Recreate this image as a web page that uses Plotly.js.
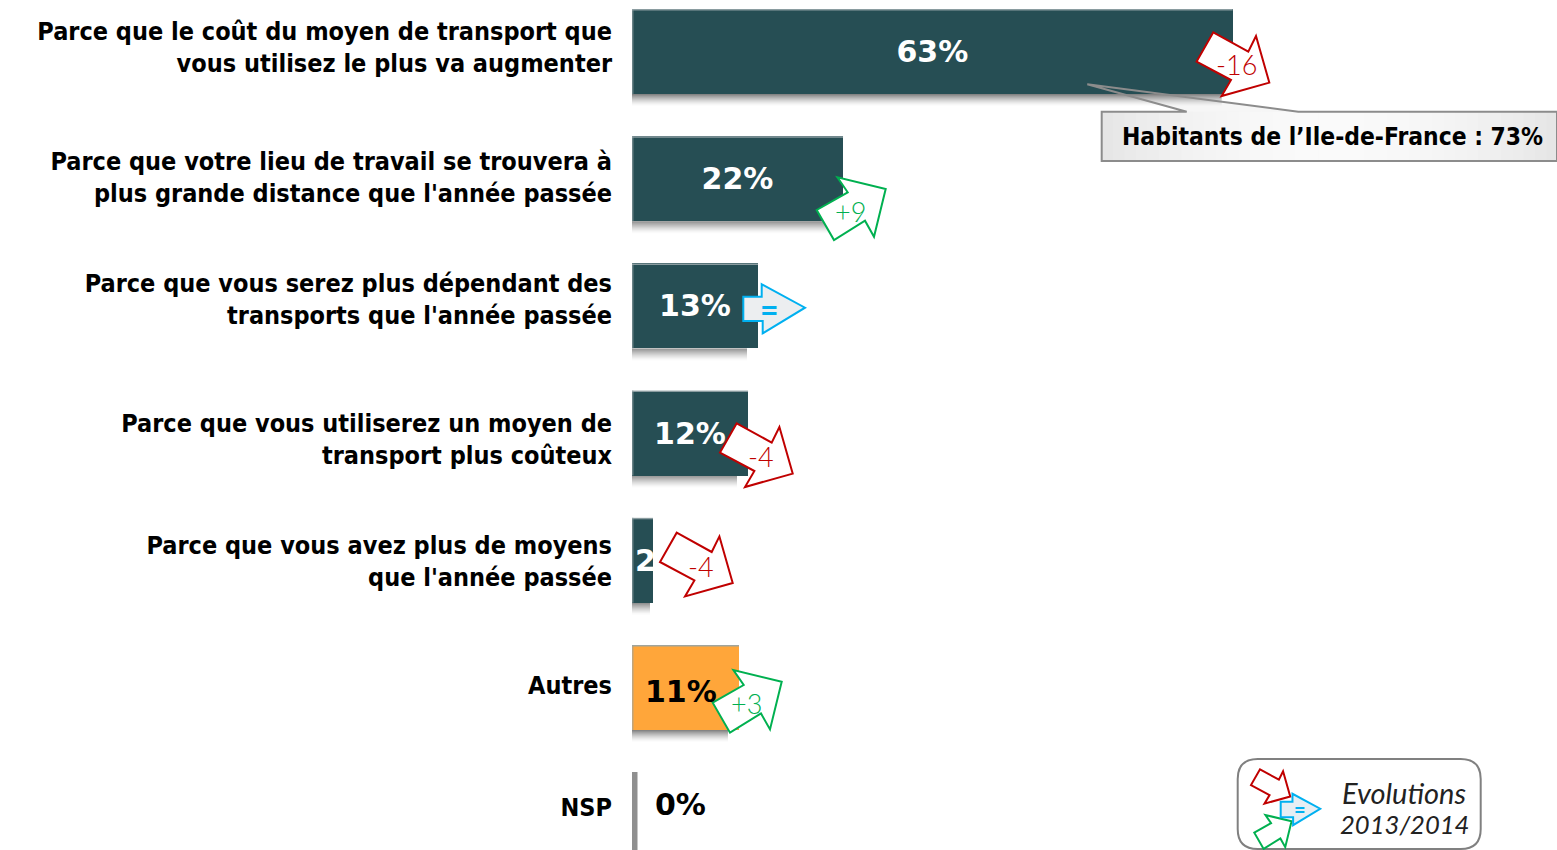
<!DOCTYPE html>
<html><head><meta charset="utf-8">
<script src="https://cdn.plot.ly/plotly-3.0.1.min.js"></script>
<style>html,body{margin:0;padding:0;background:#fff;overflow:hidden}#c{width:1557px;height:850px}</style>
</head><body><div id="c"></div>
<script>
const categories = [
  "Parce que le coût du moyen de transport que<br>vous utilisez le plus va augmenter",
  "Parce que votre lieu de travail se trouvera à<br>plus grande distance que l'année passée",
  "Parce que vous serez plus dépendant des<br>transports que l'année passée",
  "Parce que vous utiliserez un moyen de<br>transport plus coûteux",
  "Parce que vous avez plus de moyens<br>que l'année passée",
  "Autres",
  "NSP"
];
const labels = [63, 22, 13, 12, 2, 11, 0];
const values = [62.9, 22.1, 13.2, 12.15, 2.2, 11.2, 0];
const evolutions = ["-16", "+9", "=", "-4", "-4", "+3", ""];
const callout = "Habitants de l’Ile-de-France : 73%";
const legendLines = ["Evolutions", "2013/2014"];

const W = 1557, H = 850, L = 632;
const TEAL = "#264e54", ORANGE = "#ffa63a", RED = "#c00000", GREEN = "#00b050", BLUE = "#00b0f0";
const FONT = "'DejaVu Sans Condensed','DejaVu Sans',sans-serif";
const WIDE = "'DejaVu Sans',sans-serif";
const THIN = "Lato, 'Open Sans', sans-serif";
const pxX = x => (x - L) / (W - L);
const pxY = y => (H - y) / H;
const path = pts => "M" + pts.map(p => pxX(p[0]) + "," + pxY(p[1])).join("L") + "Z";

const RED_SHAPE = [[0,0],[35,19.3],[42.7,3.7],[56,50.3],[8.3,63.7],[17.7,47.7],[-16.7,29.3]];
const GREEN_SHAPE = [[0,0],[31,-17.7],[20.7,-32.7],[69,-21],[57.3,26.7],[48.3,10.7],[17.3,30]];
const BLUE_SHAPE = [[0,0],[18.4,0],[18.4,-12.4],[61.7,11],[19.4,36.6],[19.4,24.3],[0,24.3]];
const place = (s, x, y, k = 1) => s.map(p => [x + p[0] * k, y + p[1] * k]);
const arrow = (s, color, x, y, k = 1, fill = "#fff", w = 2) => ({
  type: "path", xref: "paper", yref: "paper", path: path(place(s, x, y, k)),
  fillcolor: fill, line: { color, width: w }, layer: "above"
});
const box = (x0, y0, x1, y1, fill, layer = "above") => ({
  type: "rect", xref: "paper", yref: "paper", x0: pxX(x0), x1: pxX(x1), y0: pxY(y0), y1: pxY(y1),
  fillcolor: fill, line: { width: 0 }, layer
});

const STEP = 127.2, FIRST = 51.5, BAR = 85, PX = 9.55;
const shapes = [];
// callout fill sits under the bar; its outline goes over it
const TAIL = [[1087.3,84.3],[1186.7,111.7],[1101.7,111.7],[1101.7,161],[1557,161],[1557,111.7],[1298.3,111.7]];
shapes.push({ type: "path", xref: "paper", yref: "paper", path: path(TAIL), fillcolor: "#f6f6f6", line: { width: 0 }, layer: "below" });
for (let k = 0; k < 40; k++) {
  const t = Math.abs(k - 19.5) / 19.5, g = Math.round(250 - 20 * t * t);
  shapes.push(box(1101.7 + k * 11.4, 111.7, 1101.7 + (k + 1) * 11.4 + 0.5, 161, `rgb(${g},${g},${g})`, "below"));
}
// soft shadows under the bars
values.forEach((v, i) => {
  if (!v) return;
  const bottom = FIRST + i * STEP + BAR / 2;
  const end = L + v * PX - 11;
  for (let k = 0; k < 12; k++) {
    shapes.push(box(L, bottom + k, Math.max(end, L + 18), bottom + k + 1, `rgba(80,80,80,${(0.7 * Math.pow(1 - k / 12, 1.5)).toFixed(3)})`, "below"));
  }
  shapes.push(box(L, bottom - BAR, L + v * PX, bottom - BAR + 1.5, "rgba(150,165,168,0.9)"));
  shapes.push(box(L, bottom - BAR, L + 1.5, bottom, "rgba(150,165,168,0.6)"));
});
// clip of the 2% label
shapes.push(box(653, 540, 695, 585, "#fff"));
shapes.push(box(620, 540, 632, 585, "#fff"));
// NSP zero bar
shapes.push(box(632, 772, 637.5, 850, "#8f8f8f"));
// arrows
shapes.push(arrow(RED_SHAPE, RED, 1213.3, 32.3));
shapes.push(arrow(GREEN_SHAPE, GREEN, 816.7, 210));
shapes.push(arrow(BLUE_SHAPE, BLUE, 743.3, 296.7, 1, "#eceef0"));
shapes.push(arrow(RED_SHAPE, RED, 736.7, 423.3));
shapes.push(arrow(RED_SHAPE, RED, 676.7, 532.7));
shapes.push(arrow(GREEN_SHAPE, GREEN, 712.7, 702.7));
// callout outline
shapes.push({ type: "path", xref: "paper", yref: "paper", path: path(TAIL), fillcolor: "rgba(0,0,0,0)", line: { color: "#8c8c8c", width: 2 }, layer: "above" });
// legend box
const lx0 = pxX(1237.7), lx1 = pxX(1480.7), ly0 = pxY(849), ly1 = pxY(759), rx = 20 / (W - L), ry = 20 / H;
shapes.push({ type: "path", xref: "paper", yref: "paper",
  path: `M${lx0 + rx},${ly1}L${lx1 - rx},${ly1}Q${lx1},${ly1} ${lx1},${ly1 - ry}L${lx1},${ly0 + ry}Q${lx1},${ly0} ${lx1 - rx},${ly0}L${lx0 + rx},${ly0}Q${lx0},${ly0} ${lx0},${ly0 + ry}L${lx0},${ly1 - ry}Q${lx0},${ly1} ${lx0 + rx},${ly1}Z`,
  fillcolor: "#fff", line: { color: "#808080", width: 2 }, layer: "above" });
shapes.push(arrow(RED_SHAPE, RED, 1260, 769.3, 0.54));
shapes.push(arrow(GREEN_SHAPE, GREEN, 1254.3, 832.7, 0.54));
shapes.push(arrow(BLUE_SHAPE, BLUE, 1280.7, 801.7, 0.64, "#e6eef4"));

const note = (text, x, y, size, color, family, extra = {}) => Object.assign({
  xref: "paper", yref: "paper", x: pxX(x), y: pxY(y), text, showarrow: false,
  xanchor: "center", yanchor: "middle", font: { size, color, family }
}, extra);
const evoColor = e => e === "=" ? BLUE : e[0] === "-" ? RED : GREEN;
const evoPos = [[1236,65],[850,211],[769,309],[761,457],[701,566],[746,703]];
const annotations = evoPos.map((p, i) => note(
  evolutions[i] === "=" ? "<b>=</b>" : evolutions[i], p[0], p[1],
  evolutions[i] === "=" ? 32 : 27, evoColor(evolutions[i]), THIN));
annotations.forEach(a => { a.font.weight = 300; });
annotations.push(note("<b>" + labels[5] + "%</b>", 681, 691, 30, "#000", WIDE));
annotations.push(note("<b>" + labels[6] + "%</b>", 680, 804, 30, "#000", WIDE));
annotations.push(note("<b>" + callout + "</b>", 1332.5, 137, 24.4, "#000", FONT));
annotations.push(note("<i>" + legendLines[0] + "</i>", 1404, 792, 29, "#222", THIN));
annotations.push(note("<i>" + legendLines[1] + "</i>", 1404, 824, 25.6, "#222", THIN));
annotations.push(note("<b>=</b>", 1300, 809, 20, BLUE, THIN));

// label rows sit slightly off the bar centres in the source
const labelPx = [47, 177, 299, 439, 561, 685, 807];
const labelRows = labelPx.map(p => (p - FIRST) / STEP);
const rows = values.map((_, i) => i);
const isShort = i => i === 4;
const barTrace = (keep, anchor) => {
  const idx = rows.filter(keep);
  return {
    type: "bar", orientation: "h", x: idx.map(i => values[i]), y: idx, width: 85 / STEP,
    marker: { color: idx.map(i => i === 5 ? ORANGE : TEAL), line: { width: 0 } },
    text: idx.map(i => i < 5 ? "<b>" + labels[i] + "%</b>" : ""),
    textposition: "inside", insidetextanchor: anchor, constraintext: "none", textangle: 0,
    textfont: { size: 30, color: "#fff", family: WIDE }, hoverinfo: "skip"
  };
};

Plotly.newPlot("c", [barTrace(i => !isShort(i), "middle"), barTrace(isShort, "start")], {
  width: W, height: H, autosize: false, showlegend: false, bargap: 0, barmode: "overlay",
  margin: { l: L, r: 0, t: 0, b: 0, pad: 0 },
  paper_bgcolor: "#fff", plot_bgcolor: "rgba(0,0,0,0)",
  xaxis: { range: [0, (W - L) / PX], visible: false, fixedrange: true },
  yaxis: {
    range: [(H - FIRST) / STEP, -FIRST / STEP], tickmode: "array",
    tickvals: labelRows, ticktext: categories, showgrid: false, zeroline: false, showline: false,
    ticks: "outside", ticklen: 14, tickcolor: "rgba(0,0,0,0)", fixedrange: true,
    tickfont: { size: 25, color: "#000", family: FONT, weight: 700 }
  },
  shapes, annotations
}, { displayModeBar: false, staticPlot: true });
</script></body></html>
